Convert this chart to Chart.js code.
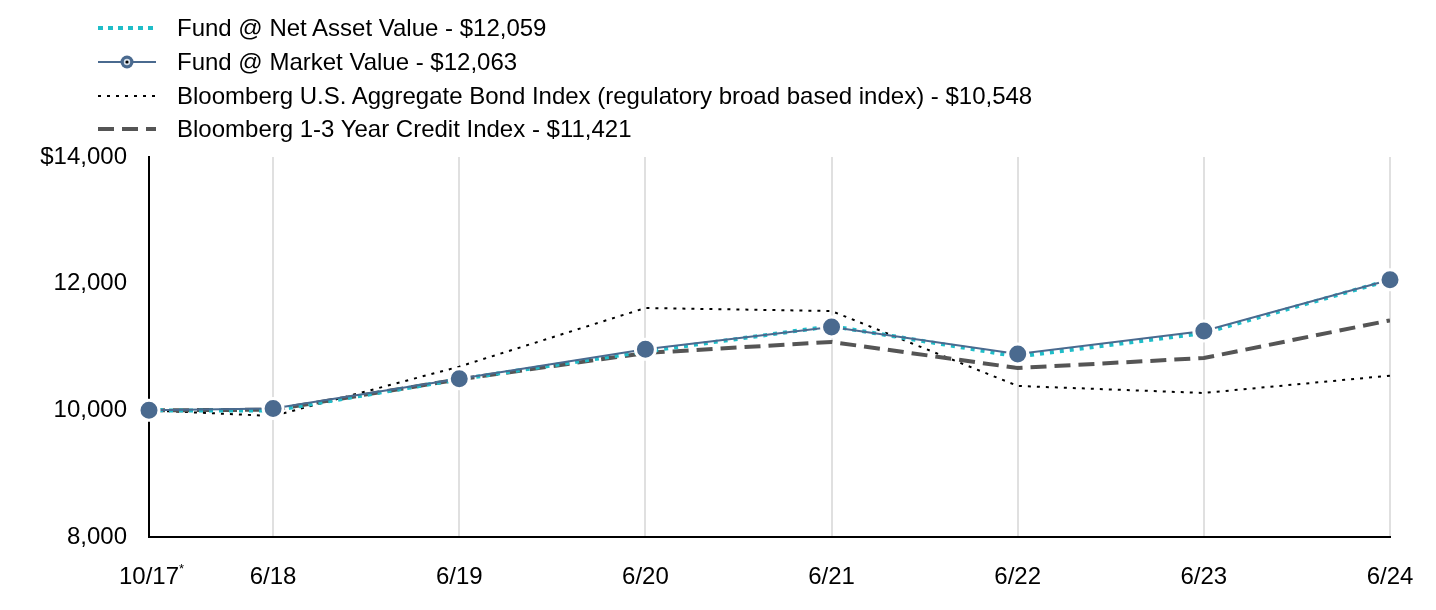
<!DOCTYPE html>
<html>
<head>
<meta charset="utf-8">
<script src="https://cdn.jsdelivr.net/npm/chart.js@4"></script>
<style>
  body { margin: 0; background: #fff; }
  #wrap { position: relative; width: 1436px; height: 610px; font-family: "Liberation Sans", Arial, sans-serif; }
  #legend { position: absolute; left: 0; top: 0; }
  .item { position: absolute; left: 96px; height: 34px; display: flex; align-items: center; white-space: nowrap; font-size: 24px; color: #000; }
  .item svg { width: 62px; height: 20px; margin-right: 19px; }
</style>
</head>
<body>
<div id="wrap">
  <canvas id="growthChart" width="1436" height="610"></canvas>
  <div id="legend"></div>
</div>
<script>
// months since 10/17
const months = [0, 8, 20, 32, 44, 56, 68, 80];
const tickLabels = ['10/17', '6/18', '6/19', '6/20', '6/21', '6/22', '6/23', '6/24'];

const navValues = [10000, 9995, 10490, 10930, 11330, 10850, 11220, 12059];
const marketValues = [10000, 10030, 10500, 10963, 11316, 10890, 11253, 12063];
const aggValues = [10000, 9910, 10690, 11616, 11568, 10385, 10274, 10548];
const creditValues = [10000, 10010, 10490, 10905, 11080, 10668, 10826, 11421];

const legendLabels = [
    'Fund @ Net Asset Value - $12,059',
    'Fund @ Market Value - $12,063',
    'Bloomberg U.S. Aggregate Bond Index (regulatory broad based index) - $10,548',
    'Bloomberg 1-3 Year Credit Index - $11,421'
];

const fontFamily = '"Liberation Sans", Arial';
const fontSize = 24;

function pts(vals) {
    return vals.map((v, i) => ({ x: months[i], y: v }));
}

// legend in html
const samples = [
    '<line x1="2" y1="10" x2="60" y2="10" stroke="#1fbdc8" stroke-width="4" stroke-dasharray="5 5"/>',
    '<line x1="2" y1="10" x2="60" y2="10" stroke="#4a6a8f" stroke-width="2"/><circle cx="31" cy="10" r="6.5" fill="#4a6a8f"/><circle cx="31" cy="10" r="3.2" fill="#d9e1ea"/><circle cx="31" cy="10" r="1.6" fill="#000"/>',
    '<line x1="2" y1="10" x2="60" y2="10" stroke="#000" stroke-width="2" stroke-dasharray="3 6"/>',
    '<line x1="2" y1="10" x2="60" y2="10" stroke="#555" stroke-width="4" stroke-dasharray="16 8"/>'
];
const legendTops = [11, 45, 79, 112];
document.getElementById('legend').innerHTML = legendLabels.map((t, i) =>
    `<div class="item" style="top:${legendTops[i]}px"><svg viewBox="0 0 62 20">${samples[i]}</svg><span>${t}</span></div>`
).join('');

// small superscript star on the first x label
const starPlugin = {
    id: 'star',
    afterDraw(chart) {
        const ctx = chart.ctx;
        const x = chart.scales.x.getPixelForValue(months[0]);
        ctx.save();
        ctx.font = fontSize + 'px ' + fontFamily;
        const w = ctx.measureText(tickLabels[0]).width;
        ctx.font = '13px ' + fontFamily;
        ctx.fillStyle = '#000';
        ctx.textBaseline = 'top';
        ctx.fillText('*', x + w / 2, 563);
        ctx.restore();
    }
};

new Chart(document.getElementById('growthChart'), {
    type: 'line',
    data: {
        datasets: [
            {
                label: legendLabels[1],
                data: pts(marketValues),
                borderColor: '#4a6a8f',
                borderWidth: 2,
                pointRadius: 10,
                pointBackgroundColor: '#4a6a8f',
                pointBorderColor: '#fff',
                pointBorderWidth: 3,
                clip: false,
                order: 0
            },
            {
                label: legendLabels[0],
                data: pts(navValues),
                borderColor: '#1fbdc8',
                borderWidth: 4,
                borderDash: [4, 6],
                pointRadius: 0,
                order: 1
            },
            {
                label: legendLabels[3],
                data: pts(creditValues),
                borderColor: '#555',
                borderWidth: 4,
                borderDash: [16, 8],
                pointRadius: 0,
                order: 2
            },
            {
                label: legendLabels[2],
                data: pts(aggValues),
                borderColor: '#000',
                borderWidth: 2,
                borderDash: [3, 6],
                pointRadius: 0,
                order: 3
            }
        ]
    },
    options: {
        responsive: false,
        animation: false,
        layout: { padding: { top: 157, right: 46, left: 0, bottom: 0 } },
        plugins: {
            legend: { display: false },
            tooltip: { enabled: false }
        },
        elements: { line: { tension: 0 } },
        scales: {
            x: {
                type: 'linear',
                min: 0,
                max: 80,
                afterBuildTicks: function (scale) {
                    scale.ticks = months.map(m => ({ value: m }));
                },
                afterFit: function (scale) {
                    scale.height = 73;
                    scale.paddingLeft = 0;
                    scale.paddingRight = 0;
                },
                grid: { display: true, color: '#e0e0e0', lineWidth: 2, drawTicks: false },
                border: { display: true, color: '#000', width: 2 },
                ticks: {
                    padding: 26,
                    color: '#000',
                    font: { family: fontFamily, size: fontSize },
                    maxRotation: 0,
                    autoSkip: false,
                    callback: function (value) {
                        const i = months.indexOf(value);
                        return i >= 0 ? tickLabels[i] : '';
                    }
                }
            },
            y: {
                min: 8000,
                max: 14000,
                afterFit: function (scale) { scale.width = 149; },
                grid: { display: false, drawTicks: false },
                border: { display: true, color: '#000', width: 2 },
                ticks: {
                    stepSize: 2000,
                    padding: 22,
                    color: '#000',
                    font: { family: fontFamily, size: fontSize },
                    callback: function (value) {
                        const s = value.toLocaleString('en-US');
                        return value === 14000 ? '$' + s : s;
                    }
                }
            }
        }
    },
    plugins: [starPlugin]
});
</script>
</body>
</html>
